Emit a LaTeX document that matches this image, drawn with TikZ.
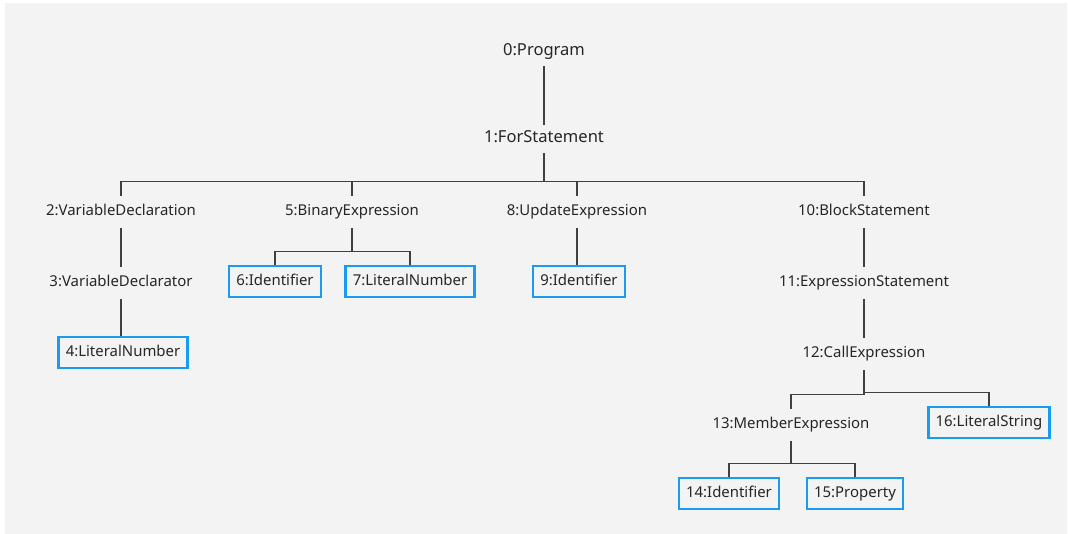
\documentclass[tikz,border=0pt]{standalone}
\usepackage{fontspec}
\setmainfont{Noto Sans}
\definecolor{panel}{HTML}{F3F3F3}
\definecolor{edge}{HTML}{404040}
\definecolor{leafblue}{HTML}{1A9BF2}
\begin{document}
\begin{tikzpicture}[x=0.75pt,y=-0.75pt,
  astnode/.style={inner sep=0pt, minimum height=24pt, text height=8.4pt, text depth=2.6pt,
    font=\fontsize{11.2pt}{13pt}\selectfont, text=black!85},
  rootnode/.style={astnode, font=\fontsize{12.4pt}{14pt}\selectfont, minimum height=21pt},
  leafnode/.style={astnode, draw=leafblue, line width=1.8pt, fill=panel, minimum height=23.5pt, inner xsep=5.5pt},
  link/.style={draw=edge, line width=1pt}]
  \useasboundingbox (0,0) rectangle (1068,534);
  \fill[panel] (5,3) rectangle (1067,534);

  % nodes of the syntax tree
  \node[rootnode] (n0) at (544,52) {0:Program};
  \node[rootnode] (n1) at (544,139) {1:ForStatement};
  \node[astnode] (n2) at (121,212) {2:VariableDeclaration};
  \node[astnode] (n3) at (121,283) {3:VariableDeclarator};
  \node[leafnode] (n4) at (123,352.5) {4:LiteralNumber};
  \node[astnode] (n5) at (352,212) {5:BinaryExpression};
  \node[leafnode] (n6) at (275,281.5) {6:Identifier};
  \node[leafnode] (n7) at (410,281.5) {7:LiteralNumber};
  \node[astnode] (n8) at (577,212) {8:UpdateExpression};
  \node[leafnode] (n9) at (579,281.5) {9:Identifier};
  \node[astnode] (n10) at (864,212) {10:BlockStatement};
  \node[astnode] (n11) at (864,283) {11:ExpressionStatement};
  \node[astnode] (n12) at (864,354) {12:CallExpression};
  \node[astnode] (n13) at (791,425) {13:MemberExpression};
  \node[leafnode] (n14) at (729,493.5) {14:Identifier};
  \node[leafnode] (n15) at (855,493.5) {15:Property};
  \node[leafnode] (n16) at (989,422.5) {16:LiteralString};

  % straight parent-child links
  \draw[link] (n0.south) -- (n0.south |- n1.north);
  \draw[link] (n2.south) -- (n2.south |- n3.north);
  \draw[link] (n3.south) -- (n3.south |- n4.north);
  \draw[link] (n8.south) -- (n8.south |- n9.north);
  \draw[link] (n10.south) -- (n10.south |- n11.north);
  \draw[link] (n11.south) -- (n11.south |- n12.north);

  % branching links: down to a bar, across, down to the child
  \foreach \p/\c in {n1/n2, n1/n5, n1/n8, n1/n10, n12/n13}
    \draw[link] (\p.south) |- ([yshift=10.5pt]\c.north) -- (\c.north);
  \foreach \p/\c in {n5/n6, n5/n7, n12/n16, n13/n14, n13/n15}
    \draw[link] (\p.south) |- ([yshift=10pt]\c.north) -- (\c.north);
\end{tikzpicture}
\end{document}
